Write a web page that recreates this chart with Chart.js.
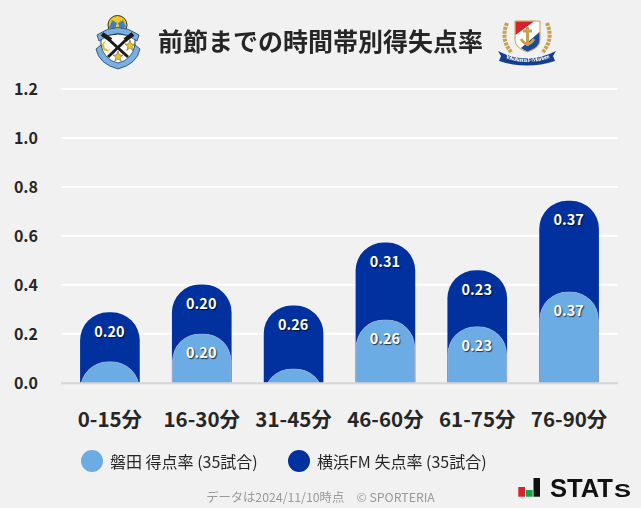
<!DOCTYPE html>
<html>
<head>
<meta charset="utf-8">
<script src="https://cdn.jsdelivr.net/npm/chart.js@4"></script>
<style>
    html, body { margin: 0; padding: 0; background: #f1f1f1; }
    body { width: 641px; height: 508px; position: relative; overflow: hidden; font-family: "Noto Sans CJK JP", "Noto Sans", sans-serif; }
    #chart { position: absolute; left: 0; top: 0; }
    #title { position: absolute; left: 158px; top: 22px; font-size: 25px; line-height: 36px; font-weight: 700; color: #262626; white-space: nowrap; }
    .legend-item { position: absolute; top: 449px; height: 24px; line-height: 24px; font-size: 16px; color: #262626; white-space: nowrap; padding-left: 29px; }
    .legend-item i { position: absolute; left: 0; top: 1px; width: 22px; height: 22px; border-radius: 50%; }
    #note { position: absolute; left: 0; width: 641px; top: 488px; text-align: center; font-size: 12.3px; line-height: 18px; color: #999; }
    svg { position: absolute; }
</style>
</head>
<body>
<canvas id="chart" width="641" height="508"></canvas>
<div id="title">前節までの時間帯別得失点率</div>

<!-- club crests, rough redraw -->
<svg style="left:94px;top:14px" width="48" height="56" viewBox="0 0 48 56">
    <circle cx="23.5" cy="11" r="9.5" fill="#f2c81e" stroke="#2b2b2b" stroke-width="1"/>
    <path d="M18 6 L23 9 L21 15 L15 14Z M29 6 L32 13 L26 15 L24 9Z" fill="#3f7fc4"/>
    <path d="M7 24 Q24 16 41 24 L41 40 Q38 51 24 54 Q10 51 7 40Z" fill="#fff" stroke="#1d3f6e" stroke-width="1"/>
    <path d="M5 27 Q24 12 43 27 L45 21 Q24 6 3 21Z" fill="#7ab0e0" stroke="#1d3f6e" stroke-width="0.8"/>
    <path d="M12 23 L34 43 M35 23 L14 43" stroke="#1f1a18" stroke-width="3"/>
    <path d="M8 20 L17 26 M39 20 L31 26" stroke="#1f1a18" stroke-width="4.5"/>
    <path d="M2 35 L7 31 Q10 46 24 49 Q38 46 41 31 L46 35 Q43 50 24 55 Q5 50 2 35Z" fill="#7ab0e0" stroke="#1d3f6e" stroke-width="0.8"/>
    <path d="M13 27 a5 5 0 1 0 4 8 a4.5 4.5 0 1 1 -4 -8Z" fill="#e8b91a"/>
    <path d="M36 26 L37.4 30 L41 30 L38 32.5 L39.2 36.5 L36 34 L32.8 36.5 L34 32.5 L31 30 L34.6 30Z" fill="#f2c81e" stroke="#2b2b2b" stroke-width="0.4"/>
    <path d="M24 37 L25.4 41 L29 41 L26 43.5 L27.2 47 L24 45 L20.8 47 L22 43.5 L19 41 L22.6 41Z" fill="#f2c81e" stroke="#2b2b2b" stroke-width="0.4"/>
</svg>
<svg style="left:497px;top:20px" width="60" height="46" viewBox="0 0 60 46">
    <path d="M10 3 Q3 20 15 33 M50 3 Q57 20 45 33" fill="none" stroke="#c8a04a" stroke-width="4" stroke-dasharray="3 1"/>
    <path d="M18 1 H43 V20 Q43 28 30.5 32 Q18 28 18 20Z" fill="#fff" stroke="#c8a04a" stroke-width="1"/>
    <path d="M18.5 1.5 H37 L18.5 15Z" fill="#d8212f"/>
    <path d="M42.5 12 V20 Q42.5 27.5 30.5 31.5 Q27 30 24 28 Z" fill="#1a4a9c"/>
    <path d="M30.5 7 V26 M24 19 Q30.5 29 37 19 M26 11 H35" fill="none" stroke="#c8a04a" stroke-width="3"/>
    <path d="M1 31 Q30 46 59 31 L56 36 L58 41 Q30 50 2 41 L4 36Z" fill="#123f8c"/>
    <path id="ribbonText" d="M6 37 Q30 47 55 37" fill="none"/>
    <text font-family="Liberation Serif" font-weight="700" font-size="6" fill="#fff"><textPath href="#ribbonText" textLength="46" startOffset="2">Yokohama F·Marinos</textPath></text>
</svg>

<div id="legend"></div>
<div id="note">データは2024/11/10時点　© SPORTERIA</div>

<svg style="left:516px;top:476px" width="120" height="26" viewBox="0 0 120 26">
    <rect x="2.3" y="11" width="6.7" height="9.7" fill="#d8212f"/>
    <rect x="10" y="14" width="6.7" height="6.7" fill="#17a34a"/>
    <rect x="17.5" y="2" width="6.5" height="18.7" fill="#111"/>
    <text x="34" y="20.7" font-family="Liberation Sans" font-weight="700" font-size="25" textLength="63" lengthAdjust="spacingAndGlyphs" fill="#111">STAT</text>
    <text x="98" y="20.7" font-family="Liberation Sans" font-weight="700" font-size="19" textLength="17" lengthAdjust="spacingAndGlyphs" fill="#111">S</text>
</svg>

<script>
const categories = ['0-15分', '16-30分', '31-45分', '46-60分', '61-75分', '76-90分'];
const yTicks = [0, 0.2, 0.4, 0.6, 0.8, 1.0, 1.2];
const scoredName = '磐田 得点率 (35試合)';
const concededName = '横浜FM 失点率 (35試合)';
const scored = [0.086, 0.200, 0.057, 0.257, 0.229, 0.371];
const conceded = [0.200, 0.200, 0.257, 0.314, 0.229, 0.371];

const LIGHT = '#6cace4';
const DARK = '#00319e';
const BG = '#f1f1f1';

// the dark bars sit on top of the light ones, so they are drawn up to the sum
const stackedTops = conceded.map((v, i) => +(v + scored[i]).toFixed(3));

const backgroundPlugin = {
    id: 'opaqueBackground',
    beforeDraw(chart) {
        chart.ctx.save();
        chart.ctx.fillStyle = BG;
        chart.ctx.fillRect(0, 0, chart.width, chart.height);
        chart.ctx.restore();
    }
};

// white grid lines run a little past the plot on both sides
const gridPlugin = {
    id: 'gridLines',
    beforeDatasetsDraw(chart) {
        const { ctx, chartArea, scales } = chart;
        ctx.save();
        ctx.strokeStyle = '#ffffff';
        ctx.lineWidth = 2;
        scales.y.ticks.forEach(t => {
            if (t.value === 0) return;
            const y = scales.y.getPixelForValue(t.value);
            ctx.beginPath();
            ctx.moveTo(chartArea.left - 3, y);
            ctx.lineTo(chartArea.right + 3, y);
            ctx.stroke();
        });
        ctx.restore();
    },
    afterDatasetsDraw(chart) {
        const { ctx, chartArea, scales } = chart;
        const y = scales.y.getPixelForValue(0);
        ctx.save();
        ctx.strokeStyle = '#d6d6d6';
        ctx.lineWidth = 2;
        ctx.beginPath();
        ctx.moveTo(chartArea.left - 3, y + 0.5);
        ctx.lineTo(chartArea.right + 3, y + 0.5);
        ctx.stroke();
        ctx.restore();
    }
};

const barLabelPlugin = {
    id: 'barLabels',
    afterDatasetsDraw(chart) {
        const { ctx } = chart;
        const values = [scored, conceded];
        ctx.save();
        ctx.font = '700 14.5px "Noto Sans CJK JP"';
        ctx.textAlign = 'center';
        ctx.textBaseline = 'middle';
        ctx.fillStyle = '#ffffff';
        ctx.shadowColor = 'rgba(0,0,0,0.7)';
        ctx.shadowOffsetX = 1;
        ctx.shadowOffsetY = 1;
        ctx.shadowBlur = 1;
        [0, 1].forEach(d => {
            chart.getDatasetMeta(d).data.forEach((bar, i) => {
                // the short light bars carry no label
                if (values[d][i] >= 0.1) ctx.fillText(values[d][i].toFixed(2), bar.x - 0.5, bar.y + 18.5);
            });
        });
        ctx.restore();
    }
};

const topRound = { topLeft: 28, topRight: 28, bottomLeft: 0, bottomRight: 0 };

const chart = new Chart(document.getElementById('chart').getContext('2d', { alpha: false }), {
    type: 'bar',
    data: {
        labels: categories,
        datasets: [
            {
                label: scoredName,
                data: scored,
                backgroundColor: LIGHT,
                borderColor: 'rgba(255,255,255,0.6)',
                borderWidth: { top: 1, left: 1, right: 1, bottom: 0 },
                borderRadius: topRound,
                borderSkipped: 'bottom',
                base: -0.2,
                barThickness: 59
            },
            {
                label: concededName,
                data: stackedTops,
                backgroundColor: DARK,
                borderRadius: topRound,
                borderSkipped: 'bottom',
                base: -0.2,
                barThickness: 59
            }
        ]
    },
    options: {
        responsive: false,
        animation: false,
        layout: { padding: { top: 89, right: 26, bottom: 0, left: 0 } },
        plugins: { legend: { display: false }, tooltip: { enabled: false } },
        scales: {
            x: {
                stacked: true,
                grid: { display: false },
                border: { display: false },
                ticks: { color: '#262626', padding: 16, font: { family: '"Noto Sans CJK JP"', size: 20.5, weight: '700' }, maxRotation: 0 },
                afterFit(scale) { scale.height = 125.3; }
            },
            y: {
                min: 0,
                max: 1.2,
                afterBuildTicks(scale) { scale.ticks = yTicks.map(value => ({ value })); },
                grid: { display: false },
                border: { display: false },
                ticks: {
                    color: '#262626',
                    padding: 18,
                    font: { family: '"Noto Sans CJK JP"', size: 16, weight: '700' },
                    callback: v => v.toFixed(1)
                },
                afterFit(scale) { scale.width = 64; }
            }
        }
    },
    plugins: [backgroundPlugin, gridPlugin, barLabelPlugin]
});

// legend built from the chart's own datasets
const legendX = [81, 288];
chart.data.datasets.forEach((ds, i) => {
    const item = document.createElement('div');
    item.className = 'legend-item';
    item.style.left = legendX[i] + 'px';
    item.innerHTML = `<i style="background:${ds.backgroundColor}"></i>${ds.label}`;
    document.getElementById('legend').appendChild(item);
});
</script>
</body>
</html>
